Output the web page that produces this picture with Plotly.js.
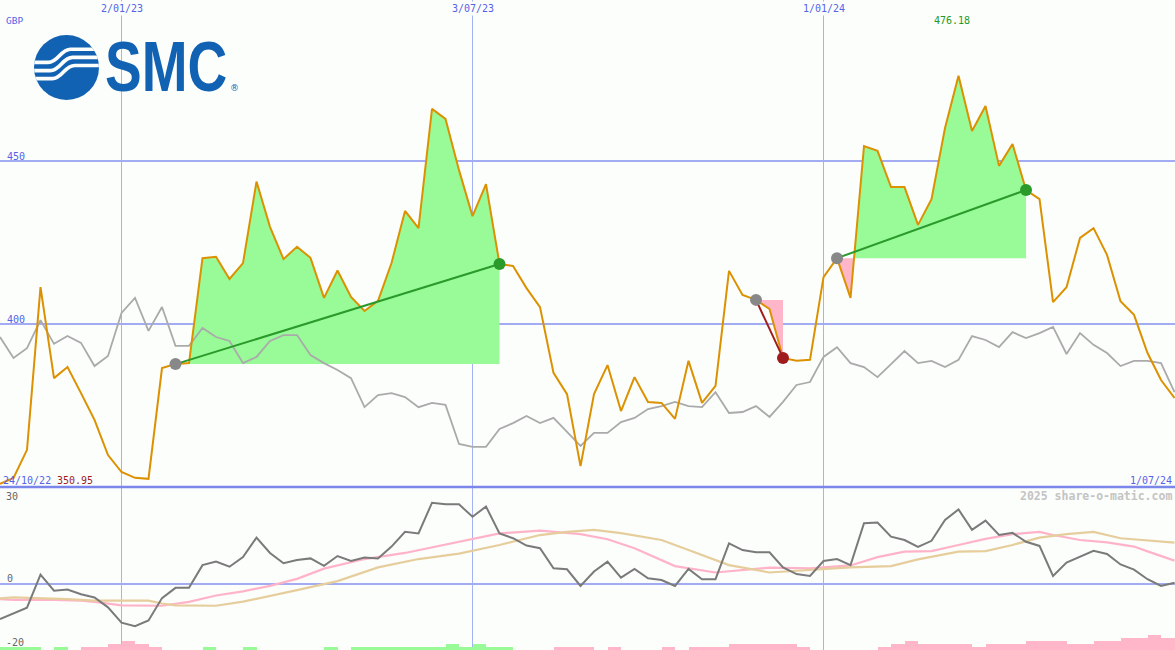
<!DOCTYPE html>
<html>
<head>
<meta charset="utf-8">
<script src="https://cdn.plot.ly/plotly-3.0.1.min.js"></script>
<style>
html,body{margin:0;padding:0;background:#fcfefc;}
#chart{width:1175px;height:650px;}
</style>
</head>
<body>
<div id="chart"></div>
<script>
// ---------- DATA ----------
const dates = [
'2022-10-31','2022-11-07','2022-11-14','2022-11-21','2022-11-28','2022-12-05','2022-12-12','2022-12-19','2022-12-26',
'2023-01-02','2023-01-09','2023-01-16','2023-01-23','2023-01-30','2023-02-06','2023-02-13','2023-02-20','2023-02-27',
'2023-03-06','2023-03-13','2023-03-20','2023-03-27','2023-04-03','2023-04-10','2023-04-17','2023-04-24','2023-05-01',
'2023-05-08','2023-05-15','2023-05-22','2023-05-29','2023-06-05','2023-06-12','2023-06-19','2023-06-26','2023-07-03',
'2023-07-10','2023-07-17','2023-07-24','2023-07-31','2023-08-07','2023-08-14','2023-08-21','2023-08-28','2023-09-04',
'2023-09-11','2023-09-18','2023-09-25','2023-10-02','2023-10-09','2023-10-16','2023-10-23','2023-10-30','2023-11-06',
'2023-11-13','2023-11-20','2023-11-27','2023-12-04','2023-12-11','2023-12-18','2023-12-25',
'2024-01-01','2024-01-08','2024-01-15','2024-01-22','2024-01-29','2024-02-05','2024-02-12','2024-02-19','2024-02-26',
'2024-03-04','2024-03-11','2024-03-18','2024-03-25','2024-04-01','2024-04-08','2024-04-15','2024-04-22','2024-04-29',
'2024-05-06','2024-05-13','2024-05-20','2024-05-27','2024-06-03','2024-06-10','2024-06-17','2024-06-24','2024-07-01'];

const price = [
350.95, 352.8, 361.4, 411.3, 383.4, 386.8, 378.8, 370.6, 359.8, 354.6,
352.8, 352.5, 386.5, 387.7, 388.0, 420.2, 420.6, 413.8, 418.7, 443.7,
429.8, 419.9, 423.7, 420.3, 408.0, 416.4, 408.3, 404.0, 407.1, 418.7,
434.7, 429.4, 466.0, 462.9, 447.2, 433.1, 442.9, 418.4, 417.8, 411.0,
405.2, 385.0, 378.5, 356.4, 378.5, 387.4, 373.3, 383.7, 376.1, 375.8,
370.9, 388.7, 375.8, 381.0, 416.3, 408.9, 407.4, 404.6, 389.6, 388.7,
389.0, 414.4, 420.2, 408.0, 454.6, 453.1, 442.0, 442.0, 430.4, 438.3,
460.1, 476.18, 459.2, 466.9, 448.5, 455.2, 441.1, 438.3, 406.7, 411.3,
426.4, 429.4, 421.2, 407.0, 402.8, 391.1, 382.8, 377.3];

const relative = [
396.0, 389.6, 392.6, 401.2, 393.9, 396.3, 394.2, 387.1, 390.2, 403.4,
408.0, 397.9, 405.2, 393.3, 393.3, 398.8, 396.0, 394.8, 388.0, 389.9,
394.8, 396.6, 396.6, 390.5, 388.0, 385.9, 383.4, 374.5, 378.2, 378.8,
377.6, 374.5, 375.8, 375.2, 363.2, 362.3, 362.3, 367.8, 369.6, 371.8,
369.6, 371.2, 366.9, 362.6, 366.6, 366.6, 369.9, 371.2, 373.9, 374.8,
376.1, 374.8, 374.5, 379.1, 372.7, 373.0, 374.8, 371.5, 376.1, 381.3,
382.2, 389.9, 392.9, 388.0, 386.8, 383.7, 387.7, 391.7, 388.0, 388.7,
386.8, 389.0, 396.3, 395.1, 392.9, 397.5, 395.7, 397.2, 399.1, 390.8,
397.2, 393.6, 391.1, 387.1, 388.7, 388.7, 388.0, 379.1];

const momentum = [
-11.0, -9.2, -7.4, 2.9, -2.1, -1.7, -3.2, -4.2, -7.3, -12.1,
-13.2, -11.4, -4.4, -1.2, -1.2, 5.9, 7.0, 5.4, 8.4, 14.5,
9.7, 6.5, 7.5, 8.0, 5.7, 8.75, 7.2, 8.3, 8.0, 11.7,
16.3, 15.8, 25.4, 24.9, 24.9, 21.0, 24.2, 15.8, 14.3, 12.0,
11.2, 4.9, 4.6, -0.6, 3.9, 7.0, 2.0, 4.7, 1.8, 1.25,
-0.6, 4.7, 1.5, 1.5, 12.7, 10.6, 9.9, 9.9, 5.2, 3.1,
2.5, 7.2, 7.8, 5.9, 19.0, 19.2, 14.8, 13.75, 11.6, 13.5,
20.0, 23.3, 16.9, 19.8, 15.3, 16.0, 13.2, 11.9, 2.5, 6.7,
8.5, 10.4, 9.4, 6.1, 4.5, 1.5, -0.6, 0.4];

// moving averages read at selected weeks (index into dates)
const pinkIdx = [0,1,4,6,7,8,9,12,13,14,16,18,20,22,24,27,30,32,35,37,40,42,43,45,47,50,53,57,60,63,65,67,69,71,73,75,77,78,80,82,84,85,87];
const pinkVal = [-4.7,-5.0,-5.0,-5.2,-5.6,-6.25,-6.7,-6.8,-6.25,-5.6,-3.6,-2.3,-0.6,1.6,4.8,7.8,9.7,11.4,14.1,15.8,16.7,16.1,15.6,14.0,11.2,5.6,3.6,5.1,4.9,5.8,8.4,10.1,10.3,12.2,14.1,15.6,16.3,15.3,13.75,13.0,11.7,10.2,7.3];
const tanIdx = [0,1,5,7,11,12,13,16,18,20,22,25,28,31,34,37,40,42,44,46,49,51,54,57,60,63,66,68,71,73,75,77,79,81,83,85,87];
const tanVal = [-4.5,-4.2,-4.7,-5.2,-5.2,-6.1,-6.7,-6.8,-5.5,-3.6,-1.9,0.9,5.2,7.8,9.5,12.2,15.3,16.3,16.9,15.9,13.75,10.6,5.9,3.6,4.4,5.2,5.6,7.7,10.1,10.3,12.2,14.5,15.6,16.3,14.3,13.5,12.9];

// weekly bar levels at the foot (positive = green, negative = pink)
const barLevel = [
1,1,1,0,1,0,-1,-1,-2,-3,
-2,-1,0,0,0,1,0,0,1,0,
0,0,0,0,1,0,1,1,1,1,
1,1,1,2,1,2,1,1,0,0,
0,-1,-1,-1,0,-1,0,0,0,-1,
0,-1,-1,-1,-2,-2,-2,-2,-2,-1,
0,0,0,0,0,-1,-2,-3,-2,-2,
-2,-2,-1,-2,-2,-2,-3,-3,-3,-2,
-2,-3,-3,-4,-4,-5,-4,-4];

// trade segments: [start index, end index]
const segments = [[13,37],[56,58],[62,76]];

const gridDates = ['2023-01-02','2023-07-03','2024-01-01'];
const gridLabels = ['2/01/23','3/07/23','1/01/24'];
const startLabel = '24/10/22', endLabel = '1/07/24';

// ---------- BUILD ----------
const W = 1175, H = 650;
const bg = '#fcfefc';
const px = x => x / W;
const py = y => 1 - y / H;
const toStr = t => new Date(t).toISOString().replace('T', ' ').replace('Z', '');
const T = dates.map(d => Date.parse(d + 'T00:00:00Z'));

const traces = [];

// foot bars
traces.push({
  type: 'bar', x: dates, y: barLevel.map(v => Math.abs(v)),
  marker: {color: barLevel.map(v => v >= 0 ? '#98fb98' : '#ffb6c8'), line: {width: 0}},
  width: 7 * 86400000, offset: 0, xaxis: 'x', yaxis: 'y3', hoverinfo: 'skip'
});

// lower panel lines
traces.push({type: 'scatter', mode: 'lines', x: pinkIdx.map(i => dates[i]), y: pinkVal,
  line: {color: '#ffb3c8', width: 2.2}, xaxis: 'x', yaxis: 'y2', hoverinfo: 'skip'});
traces.push({type: 'scatter', mode: 'lines', x: tanIdx.map(i => dates[i]), y: tanVal,
  line: {color: '#e6cd9c', width: 2.2}, xaxis: 'x', yaxis: 'y2', hoverinfo: 'skip'});
traces.push({type: 'scatter', mode: 'lines', x: dates, y: momentum,
  line: {color: '#7a7a7a', width: 2}, xaxis: 'x', yaxis: 'y2', hoverinfo: 'skip'});

// segment fills
segments.forEach(([i0, i1]) => {
  const base = price[i0];
  const pts = [];
  for (let i = i0; i <= i1; i++) {
    if (i > i0) {
      const a = price[i - 1] - base, b = price[i] - base;
      if (a * b < 0) {
        const f = a / (a - b);
        pts.push([T[i - 1] + f * (T[i] - T[i - 1]), base]);
      }
    }
    pts.push([T[i], price[i]]);
  }
  const xs = pts.map(p => toStr(p[0])).concat([toStr(T[i1]), toStr(T[i0])]);
  const up = pts.map(p => Math.max(p[1], base)).concat([base, base]);
  const dn = pts.map(p => Math.min(p[1], base)).concat([base, base]);
  traces.push({type: 'scatter', mode: 'lines', x: xs, y: up, fill: 'toself',
    fillcolor: '#98fb98', line: {width: 0, color: 'rgba(0,0,0,0)'}, xaxis: 'x', yaxis: 'y', hoverinfo: 'skip'});
  traces.push({type: 'scatter', mode: 'lines', x: xs, y: dn, fill: 'toself',
    fillcolor: '#ffb6c8', line: {width: 0, color: 'rgba(0,0,0,0)'}, xaxis: 'x', yaxis: 'y', hoverinfo: 'skip'});
});

// relative line and price
traces.push({type: 'scatter', mode: 'lines', x: dates, y: relative,
  line: {color: '#aaaaaa', width: 1.8}, xaxis: 'x', yaxis: 'y', hoverinfo: 'skip'});
traces.push({type: 'scatter', mode: 'lines', x: dates, y: price,
  line: {color: '#dc9100', width: 2}, xaxis: 'x', yaxis: 'y', hoverinfo: 'skip'});

// trend lines and markers
segments.forEach(([i0, i1]) => {
  const gain = price[i1] >= price[i0];
  const col = gain ? '#2a9a2a' : '#a01c1c';
  traces.push({type: 'scatter', mode: 'lines', x: [dates[i0], dates[i1]], y: [price[i0], price[i1]],
    line: {color: col, width: 2}, xaxis: 'x', yaxis: 'y', hoverinfo: 'skip'});
  traces.push({type: 'scatter', mode: 'markers', x: [dates[i0], dates[i1]], y: [price[i0], price[i1]],
    marker: {size: 12, color: ['#888888', col], line: {width: 0}}, xaxis: 'x', yaxis: 'y', hoverinfo: 'skip'});
});

// ---------- ANNOTATIONS ----------
const mono = 'DejaVu Sans Mono, Liberation Mono, monospace';
const blue = '#5563e6';
const ann = [];
function lab(text, x, y, color, xanchor, size, bold, bgc) {
  ann.push({text: bold ? '<b>' + text + '</b>' : text, xref: 'paper', yref: 'paper', x: px(x), y: py(y),
    xanchor: xanchor, yanchor: 'middle', showarrow: false, borderpad: 0,
    bgcolor: bgc || 'rgba(0,0,0,0)', font: {family: mono, size: size || 10, color: color}});
}
gridDates.forEach((d, k) => {
  ann.push({text: gridLabels[k], xref: 'x', yref: 'paper', x: d, y: py(8), xanchor: 'center', yanchor: 'middle',
    showarrow: false, borderpad: 1, bgcolor: bg, font: {family: mono, size: 10, color: blue}});
});
lab('GBP', 5, 21, blue, 'left', 9.5);
lab('450', 6, 156, blue, 'left', 10);
lab('400', 6, 319, blue, 'left', 10);
ann.push({text: String(Math.max(...price)), xref: 'x', yref: 'paper', x: dates[price.indexOf(Math.max(...price))],
  y: py(21), xanchor: 'center', yanchor: 'middle', xshift: -7, showarrow: false, borderpad: 0,
  font: {family: mono, size: 10, color: '#229922'}});
lab(startLabel, 2, 480, blue, 'left', 10);
lab(String(Math.min(...price)), 56, 480, '#a01c1c', 'left', 10);
lab(endLabel, 1173, 480, blue, 'right', 10);
lab('2025 share-o-matic.com', 1173, 496, '#c4c4c4', 'right', 11.5, true);
lab('30', 5, 496, '#666666', 'left', 10);
lab('0', 6, 578, '#666666', 'left', 10);
lab('-20', 5, 642, '#666666', 'left', 10);

// logo wordmark: natural width fits the original; stretched vertically after render
ann.push({text: 'SMC', xref: 'paper', yref: 'paper', x: px(166), y: py(71.9), xanchor: 'center', yanchor: 'middle',
  showarrow: false, borderpad: 0,
  font: {family: 'Liberation Sans, Arial, sans-serif', size: 55, weight: 'bold', color: '#1262b3'}});
ann.push({text: '®', xref: 'paper', yref: 'paper', x: px(229), y: py(88), xanchor: 'left', yanchor: 'middle',
  showarrow: false, borderpad: 0, font: {family: 'DejaVu Sans', size: 9, color: '#1262b3'}});

const svg = "<svg xmlns='http://www.w3.org/2000/svg' viewBox='0 0 64 64'><defs><clipPath id='c'><circle cx='32' cy='32' r='32'/></clipPath></defs>" +
  "<circle cx='32' cy='32' r='32' fill='#1262b3'/><g clip-path='url(#c)' fill='none' stroke='" + bg + "' stroke-width='3.6'>" +
  "<path d='M-2 27 H14 C24 27 26 14 36 14 H66'/><path d='M-2 35 H16 C26 35 28 22 38 22 H66'/><path d='M-2 43 H18 C28 43 30 30 40 30 H66'/></g></svg>";

const layout = {
  width: W, height: H, margin: {l: 0, r: 0, t: 0, b: 0, pad: 0},
  paper_bgcolor: bg, plot_bgcolor: bg, showlegend: false, bargap: 0,
  xaxis: {type: 'date', range: ['2022-10-31', '2024-07-01 06:00'], anchor: 'y2',
    tickvals: gridDates, showticklabels: false, ticks: '', showgrid: true, gridcolor: '#a6b2f6', gridwidth: 1,
    zeroline: false, showline: false, fixedrange: true},
  yaxis: {domain: [1 - 487 / H, 1], range: [350, 499.39], anchor: 'x', tickvals: [400, 450],
    showticklabels: false, ticks: '', showgrid: true, gridcolor: '#a3acf2', gridwidth: 2, zeroline: false, showline: false},
  yaxis2: {domain: [0, 162 / H], range: [-20.625, 30], anchor: 'x', tickvals: [0],
    showticklabels: false, ticks: '', showgrid: true, gridcolor: '#a3acf2', gridwidth: 2, zeroline: false, showline: false},
  yaxis3: {overlaying: 'y2', range: [0, 54], visible: false, showgrid: false, zeroline: false},
  shapes: [{type: 'line', xref: 'paper', yref: 'paper', x0: 0, x1: 1, y0: py(487), y1: py(487),
    line: {color: '#7a86ea', width: 2.5}, layer: 'above'}],
  annotations: ann,
  images: [{source: 'data:image/svg+xml;charset=utf-8,' + encodeURIComponent(svg), xref: 'paper', yref: 'paper',
    x: px(34), y: py(35), sizex: 65 / W, sizey: 65 / H, xanchor: 'left', yanchor: 'top', sizing: 'stretch', layer: 'above'}]
};

Plotly.newPlot('chart', traces, layout, {displayModeBar: false, staticPlot: true}).then(gd => {
  // stretch the wordmark vertically about its baseline, like the heavy condensed logo lettering
  gd.querySelectorAll('text.annotation-text').forEach(t => {
    if (t.textContent === 'SMC') {
      const bb = t.getBBox();
      const by = bb.y + bb.height * 0.905 / 1.117;
      const prev = t.getAttribute('transform') || '';
      t.setAttribute('transform', prev + ' translate(0,' + by + ') scale(1,1.27) translate(0,' + (-by) + ')');
    }
  });
});
</script>
</body>
</html>
